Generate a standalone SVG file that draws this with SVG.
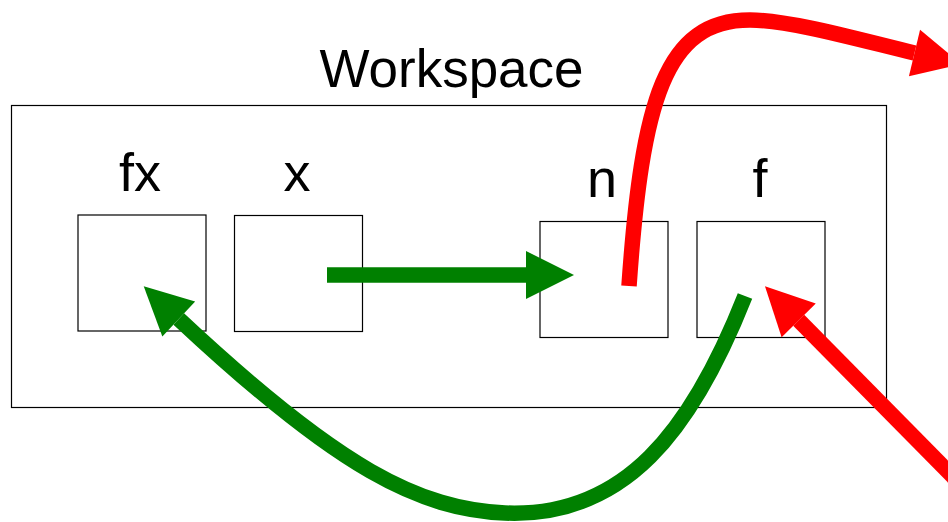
<svg xmlns="http://www.w3.org/2000/svg" width="948" height="522" viewBox="0 0 948 522">
  <style>
    .box { fill: #ffffff; stroke: #000000; stroke-width: 1.2; }
    .label { font-family: "Liberation Sans", Arial, sans-serif; font-size: 54px; fill: #000000; text-anchor: middle; }
    .title { font-family: "Liberation Sans", Arial, sans-serif; font-size: 53px; fill: #000000; text-anchor: middle; }
    .green { fill: none; stroke: #008000; stroke-width: 15.5; stroke-linecap: butt; }
    .red { fill: none; stroke: #ff0000; stroke-width: 15.5; stroke-linecap: butt; }
  </style>
  <defs>
    <marker id="headGreen" markerUnits="userSpaceOnUse" markerWidth="48" markerHeight="48" viewBox="0 -24 48 48" refX="0" refY="0" orient="auto" overflow="visible">
      <path d="M0,-24 L48,0 L0,24 Z" fill="#008000"/>
    </marker>
    <marker id="headRed" markerUnits="userSpaceOnUse" markerWidth="48" markerHeight="48" viewBox="0 -24 48 48" refX="0" refY="0" orient="auto" overflow="visible">
      <path d="M0,-24 L48,0 L0,24 Z" fill="#ff0000"/>
    </marker>
  </defs>
  <rect width="948" height="522" fill="#ffffff"/>

  <g id="workspace">
    <rect class="box" x="11.5" y="105.5" width="875" height="302"/>
    <text class="title" x="451.5" y="87">Workspace</text>
  </g>

  <g id="node-fx">
    <rect class="box" x="78" y="215" width="128" height="116"/>
    <text class="label" x="140" y="191">fx</text>
  </g>

  <g id="node-x">
    <rect class="box" x="234.5" y="215.5" width="128" height="116"/>
    <text class="label" x="297" y="191">x</text>
  </g>

  <g id="node-n">
    <rect class="box" x="540" y="221.5" width="128" height="116"/>
    <text class="label" x="602" y="197">n</text>
  </g>

  <g id="node-f">
    <rect class="box" x="697" y="221.5" width="128" height="116"/>
    <text class="label" x="760" y="197">f</text>
  </g>

  <g id="connectors">
    <path class="green" d="M327,275 L526,275" marker-end="url(#headGreen)"/>
    <path class="green" d="M745,296 C692,430 625,518 505,513 C420,509 340,470 178.75,319" marker-end="url(#headGreen)"/>
    <path class="red" d="M629,286 C642,100 665,20 750,20 C790,20 860,40 914.5,53" marker-end="url(#headRed)"/>
    <path class="red" d="M990,514 L798.7,320.3" marker-end="url(#headRed)"/>
  </g>
</svg>
